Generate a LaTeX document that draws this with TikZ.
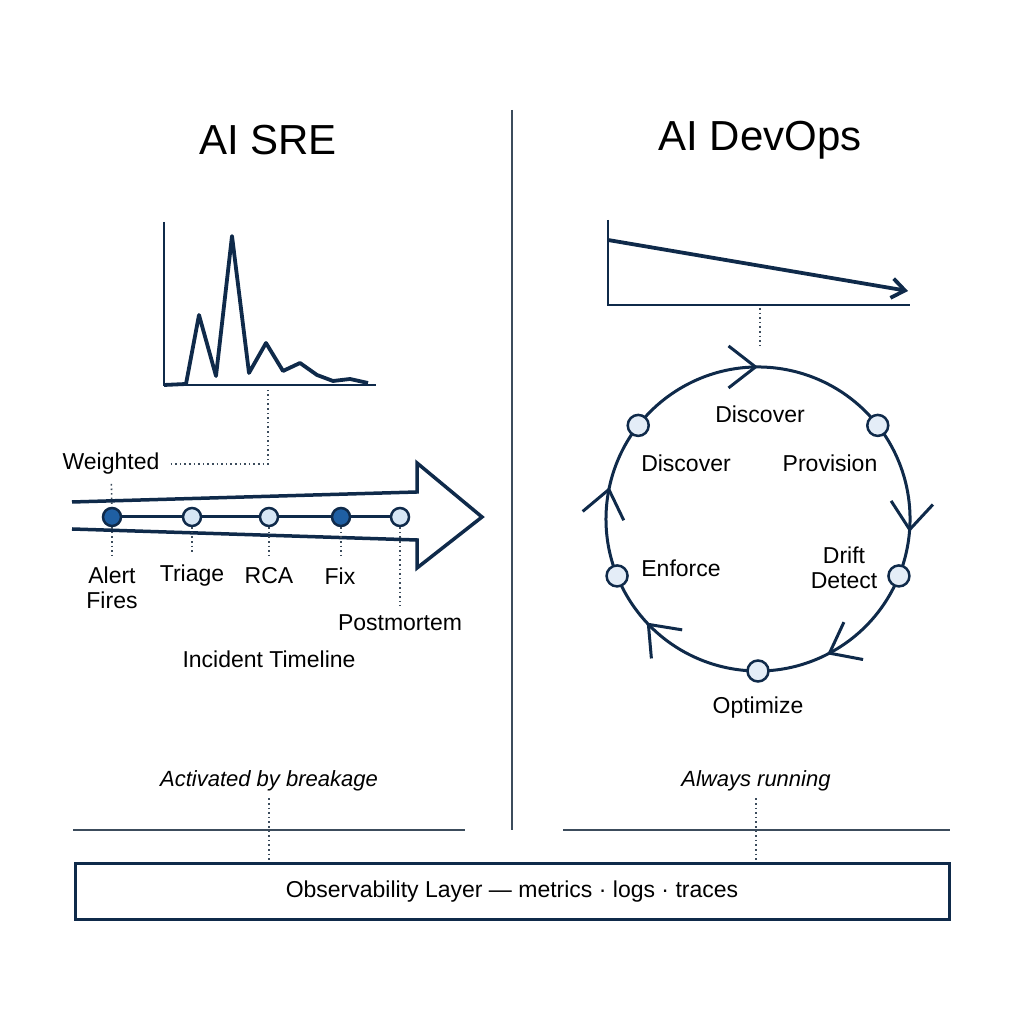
\documentclass[tikz,border=0pt]{standalone}
\usepackage{fontspec}
\setmainfont{Liberation Sans}
\usetikzlibrary{arrows.meta, positioning, calc, decorations.markings}
\definecolor{navy}{RGB}{15,42,74}
\definecolor{slate}{RGB}{60,76,92}
\definecolor{deepblue}{RGB}{31,95,163}
\definecolor{paleblue}{RGB}{214,230,245}
\definecolor{mistblue}{RGB}{228,237,247}

\begin{document}
\begin{tikzpicture}[x=1pt, y=1pt,
				title/.style={font=\fontsize{42}{46}\selectfont},
				lbl/.style={font=\fontsize{23}{25}\selectfont, align=center, inner sep=1pt},
				note/.style={font=\fontsize{22}{24}\selectfont\itshape, inner sep=1pt},
				axis/.style={line width=1.6pt, color=navy},
				trace/.style={line width=3.8pt, color=navy, line join=round},
				guide/.style={line width=1.6pt, color=slate, dash pattern=on 1.6pt off 3pt},
				rule/.style={line width=1.5pt, color=slate},
				hot/.style={circle, draw=navy, fill=deepblue, line width=2.5pt, minimum size=18pt, inner sep=0pt},
				cool/.style={hot, fill=paleblue},
				cnode/.style={circle, draw=navy, fill=mistblue, line width=2.5pt, minimum size=21pt, inner sep=0pt},
				barb/.style={-{Straight Barb[length=#1, width=1.5*#1]}}
				]
				\useasboundingbox (0,0) rectangle (1024,1024);

				% split
				\draw[rule] (512,914) -- (512,194);
				\node[title] (sre) at (268,884) {AI SRE};
				\node[title] (devops) at (760,884) {AI DevOps};

				% left: spike chart
				\draw[axis] (164,802) -- (164,639) -- (376,639);
				\draw[trace] (164,639) -- (186,640) -- (199,709) -- (216,648) -- (232,788) -- (249,651)
					-- (266,681) -- (283,653) -- (300,661) -- (317,649) -- (333,643) -- (350,645) -- (368,641);
				\coordinate (spikebot) at (268,634);

				% left: timeline arrow
				\draw[line width=3.5pt, color=navy, line join=miter] (72,522) -- (417,532) -- (417,561)
					-- (482,507) -- (417,456) -- (417,484) -- (72,495);
				\node[hot] (alert) at (112,507) {};
				\node[cool] (triage) at (192,507) {};
				\node[cool] (rca) at (269,507) {};
				\node[hot] (fix) at (341,507) {};
				\node[cool] (pm) at (400,507) {};
				\draw[line width=3pt, color=navy] (alert) -- (triage) -- (rca) -- (fix) -- (pm);

				\node[lbl] (weighted) at (111,560) {Weighted};
				\node[lbl] (alertlbl) at (112,436) {Alert\\Fires};
				\node[lbl] (triagelbl) at (192,448) {Triage};
				\node[lbl] (rcalbl) at (269,448) {RCA};
				\node[lbl] (fixlbl) at (340,448) {Fix};
				\node[lbl] (pmlbl) at (400,401) {Postmortem};
				\node[lbl] (timeline) at (269,365) {Incident Timeline};

				\draw[guide, shorten <=10pt] (weighted.east) -| (spikebot);
				\draw[guide, shorten <=8pt] (weighted) -- (alert);
				\draw[guide, shorten >=10pt] (alert) -- (alertlbl.north -| alert);
				\draw[guide, shorten >=10pt] (triage) -- (triagelbl);
				\draw[guide, shorten >=10pt] (rca) -- (rcalbl);
				\draw[guide, shorten >=10pt] (fix) -- (fixlbl.north -| fix);
				\draw[guide, shorten >=8pt] (pm) -- (pmlbl);

				% right: trend chart
				\draw[axis] (608,804) -- (608,719) -- (910,719);
				\draw[trace, barb=13pt] (608,784) -- (908,733);
				\coordinate (flatbot) at (760,716);
				\coordinate (flatend) at (760,679);
				\draw[guide] (flatbot) -- (flatend);

				% right: loop
				\coordinate (cyc) at (758,505);
				\draw[line width=3pt, color=navy, postaction={decorate}, decoration={markings,
					mark=at position 0.0833 with {\arrow[line width=3pt]{Straight Barb[length=27pt, width=42pt]}},
					mark=at position 0.347 with {\arrow[line width=3pt]{Straight Barb[length=27pt, width=42pt]}},
					mark=at position 0.508 with {\arrow[line width=3pt]{Straight Barb[length=27pt, width=42pt]}},
					mark=at position 0.714 with {\arrow[line width=3pt]{Straight Barb[length=27pt, width=42pt]}},
					mark=at position 0.867 with {\arrow[line width=3pt]{Straight Barb[length=27pt, width=42pt]}}}]
					(cyc) ++(120:152) arc[start angle=120, end angle=-240, radius=152];
				\path (cyc) ++(142:152) node[cnode] (disc) {};
				\path (cyc) ++(38:152) node[cnode] (prov) {};
				\path (cyc) ++(-22:152) node[cnode] (drift) {};
				\path (cyc) ++(-90:152) node[cnode] (opt) {};
				\path (cyc) ++(-158:152) node[cnode] (enf) {};

				\node[lbl] (disctop) at (760,610) {Discover};
				\node[lbl] (disclbl) at (686,561) {Discover};
				\node[lbl] (provlbl) at (830,561) {Provision};
				\node[lbl] (driftlbl) at (844,456) {Drift\\Detect};
				\node[lbl] (enflbl) at (681,456) {Enforce};
				\node[lbl, below=13pt of opt] (optlbl) {Optimize};

				% bottom
				\node[note] (srenote) at (269,243) {Activated by breakage};
				\node[note] (opsnote) at (756,243) {Always running};
				\draw[rule] (73,194) -- (465,194);
				\draw[rule] (563,194) -- (950,194);
				\node[draw=navy, line width=3pt, minimum width=874pt, minimum height=56pt,
					font=\fontsize{23}{25}\selectfont] (obs) at (512,132) {Observability Layer — metrics · logs · traces};
				\draw[guide, shorten <=6pt] (srenote.south) -- (srenote.south |- obs.north);
				\draw[guide, shorten <=6pt] (opsnote.south) -- (opsnote.south |- obs.north);
			\end{tikzpicture}
\end{document}
